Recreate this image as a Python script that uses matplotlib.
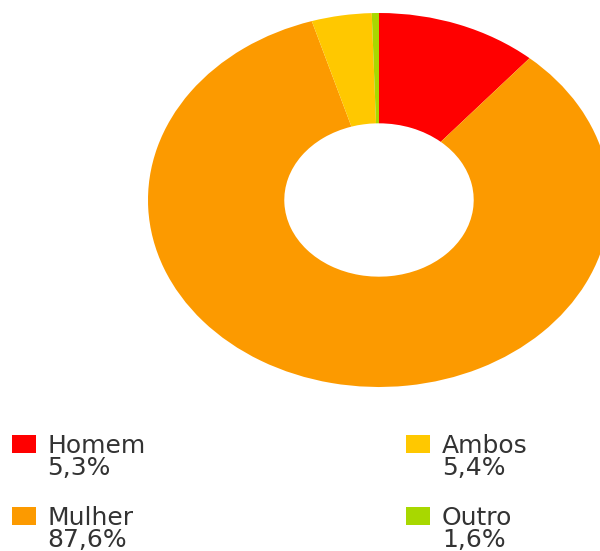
import matplotlib
matplotlib.use("Agg")
import matplotlib.pyplot as plt
from matplotlib.patches import Rectangle

# slice shares as drawn in the picture (clockwise from 12 o'clock)
categories = ["Homem", "Mulher", "Ambos", "Outro"]
slice_share = [11.3, 84.0, 4.2, 0.5]
pct_labels = ["5,3%", "87,6%", "5,4%", "1,6%"]
colors = ["#FF0000", "#FC9A00", "#FFC800", "#A8D800"]

W, H = 600, 551
fig = plt.figure(figsize=(W / 100, H / 100), dpi=100)

# donut: stretched horizontally and cut by the right edge, like the source image
cx, cy, rx, ry = 379, 200, 231, 187
ax = fig.add_axes([(cx - rx) / W, 1 - (cy + ry) / H, 2 * rx / W, 2 * ry / H])
ax.pie(slice_share, colors=colors, startangle=90, counterclock=False, radius=1,
       wedgeprops=dict(width=0.59, linewidth=0))
ax.set_aspect("auto")
ax.set_xlim(-1, 1); ax.set_ylim(-1, 1)
ax.axis("off")

# legend: two columns, two rows
col_sq = [12, 12, 406, 406]
col_tx = [47, 47, 442, 442]
row_top = [435, 507, 435, 507]
txt_kw = dict(fontsize=18, color="#333333", family="DejaVu Sans", va="baseline", ha="left")
for i, name in enumerate(categories):
    fig.patches.append(Rectangle((col_sq[i] / W, 1 - (row_top[i] + 18) / H), 24 / W, 18 / H,
                                 transform=fig.transFigure, facecolor=colors[i], edgecolor="none"))
    fig.text(col_tx[i] / W, 1 - (row_top[i] + 18) / H, name, **txt_kw)
    fig.text(col_tx[i] / W, 1 - (row_top[i] + 40) / H, pct_labels[i], **txt_kw)

fig.savefig("out.png", dpi=100)
